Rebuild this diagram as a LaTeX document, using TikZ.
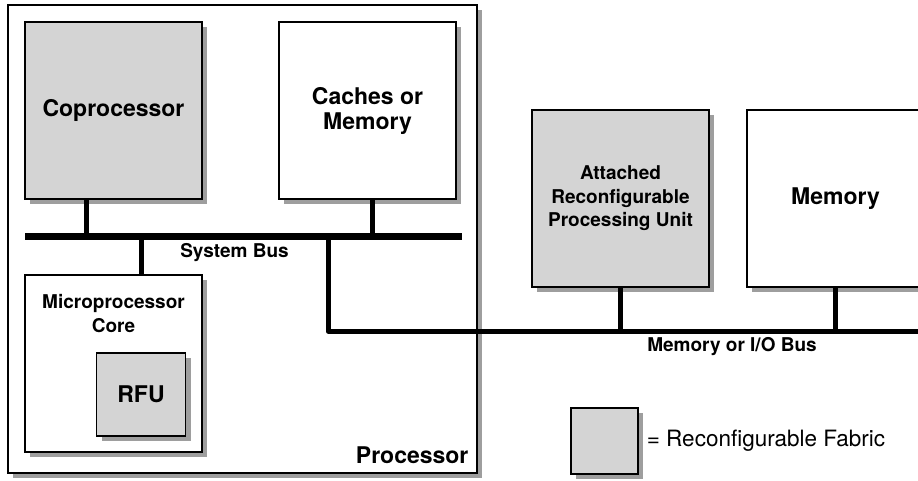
\documentclass[tikz,border=0pt]{standalone}
\usepackage{fontspec}
\setmainfont{TeX Gyre Heros}
\usepackage{tikz}
\usetikzlibrary{positioning,shadows}
\definecolor{fabric}{gray}{0.83}
\definecolor{shade}{gray}{0.62}
\tikzset{
	%Define style for boxes
	unit/.style={
		rectangle,
		draw=black, line width=1.2pt,
		fill=white,
		drop shadow={shadow xshift=5pt, shadow yshift=-5pt, fill=shade, opacity=1},
		minimum width=177pt, minimum height=177pt,
		inner sep=0pt, align=center,
		font=\bfseries\fontsize{23}{25}\selectfont},
	rcf/.style={unit, fill=fabric},
	small/.style={font=\bfseries\fontsize{19}{23.5}\selectfont, align=center, inner sep=0pt},
	bus/.style={line width=7pt},
	tap/.style={line width=5pt}
}
\begin{document}
\begin{tikzpicture}[x=1pt, y=-1pt, node distance=8pt]
	\useasboundingbox (0,0) rectangle (918,480);
	\clip (0,0) rectangle (918,480);
	% processor and what sits inside it
	\node[unit, minimum width=469pt, minimum height=468pt] (proc) at (242.5,239) {};
	\node[rcf] (copro) at (113.5,110.5) {Coprocessor};
	\node[unit] (cache) at (367.5,110.5) {Caches or\\Memory};
	\node[unit] (core) at (113.5,363.5) {};
	\node[small, anchor=north] (corelbl) at ([yshift=-20pt]core.north) {Microprocessor\\Core};
	\node[rcf, minimum width=89pt, minimum height=83pt] (rfu) at (141,394.5) {RFU};
	\node[anchor=base east, inner sep=0pt, font=\bfseries\fontsize{23}{25}\selectfont]
		(proclbl) at ([xshift=-9pt, yshift=10pt]proc.south east) {Processor};
	% outside the processor
	\node[rcf, font=\bfseries\fontsize{19}{23.5}\selectfont] (attach) at (620.5,198.5) {Attached\\Reconfigurable\\Processing Unit};
	\node[unit] (mem) at (835.5,198.5) {Memory};
	\node[rcf, minimum width=67pt, minimum height=66pt] (legend) at (604.5,441) {};
	\node[right=of legend, inner sep=0pt, font=\fontsize{22.5}{25}\selectfont] (legendlbl) {= Reconfigurable Fabric};
	% bus ends
	\coordinate (sb-w) at (25,236.5);
	\coordinate (sb-e) at (462,236.5);
	\coordinate (mb-n) at (328,236.5);
	\coordinate (mb-e) at (918,331);
	\coordinate (cp-tap) at ([xshift=-27.5pt]copro.south);
	\coordinate (ca-tap) at ([xshift=5pt]cache.south);
	\coordinate (co-tap) at ([xshift=27.5pt]core.north);
	% connections
	\draw[tap] (cp-tap) -- (cp-tap |- sb-w);
	\draw[tap] (ca-tap) -- (ca-tap |- sb-w);
	\draw[tap] (co-tap) -- (co-tap |- sb-w);
	\draw[tap] (attach.south) -- (attach.south |- mb-e);
	\draw[tap] (mem.south) -- (mem.south |- mb-e);
	\draw[tap, line join=round] (mb-n) |- (mb-e);
	\draw[bus] (sb-w) -- (sb-e);
	\node[small] (sblbl) at (234.5,253) {System Bus};
	\node[small] (mblbl) at (732,347) {Memory or I/O Bus};
\end{tikzpicture}
\end{document}
